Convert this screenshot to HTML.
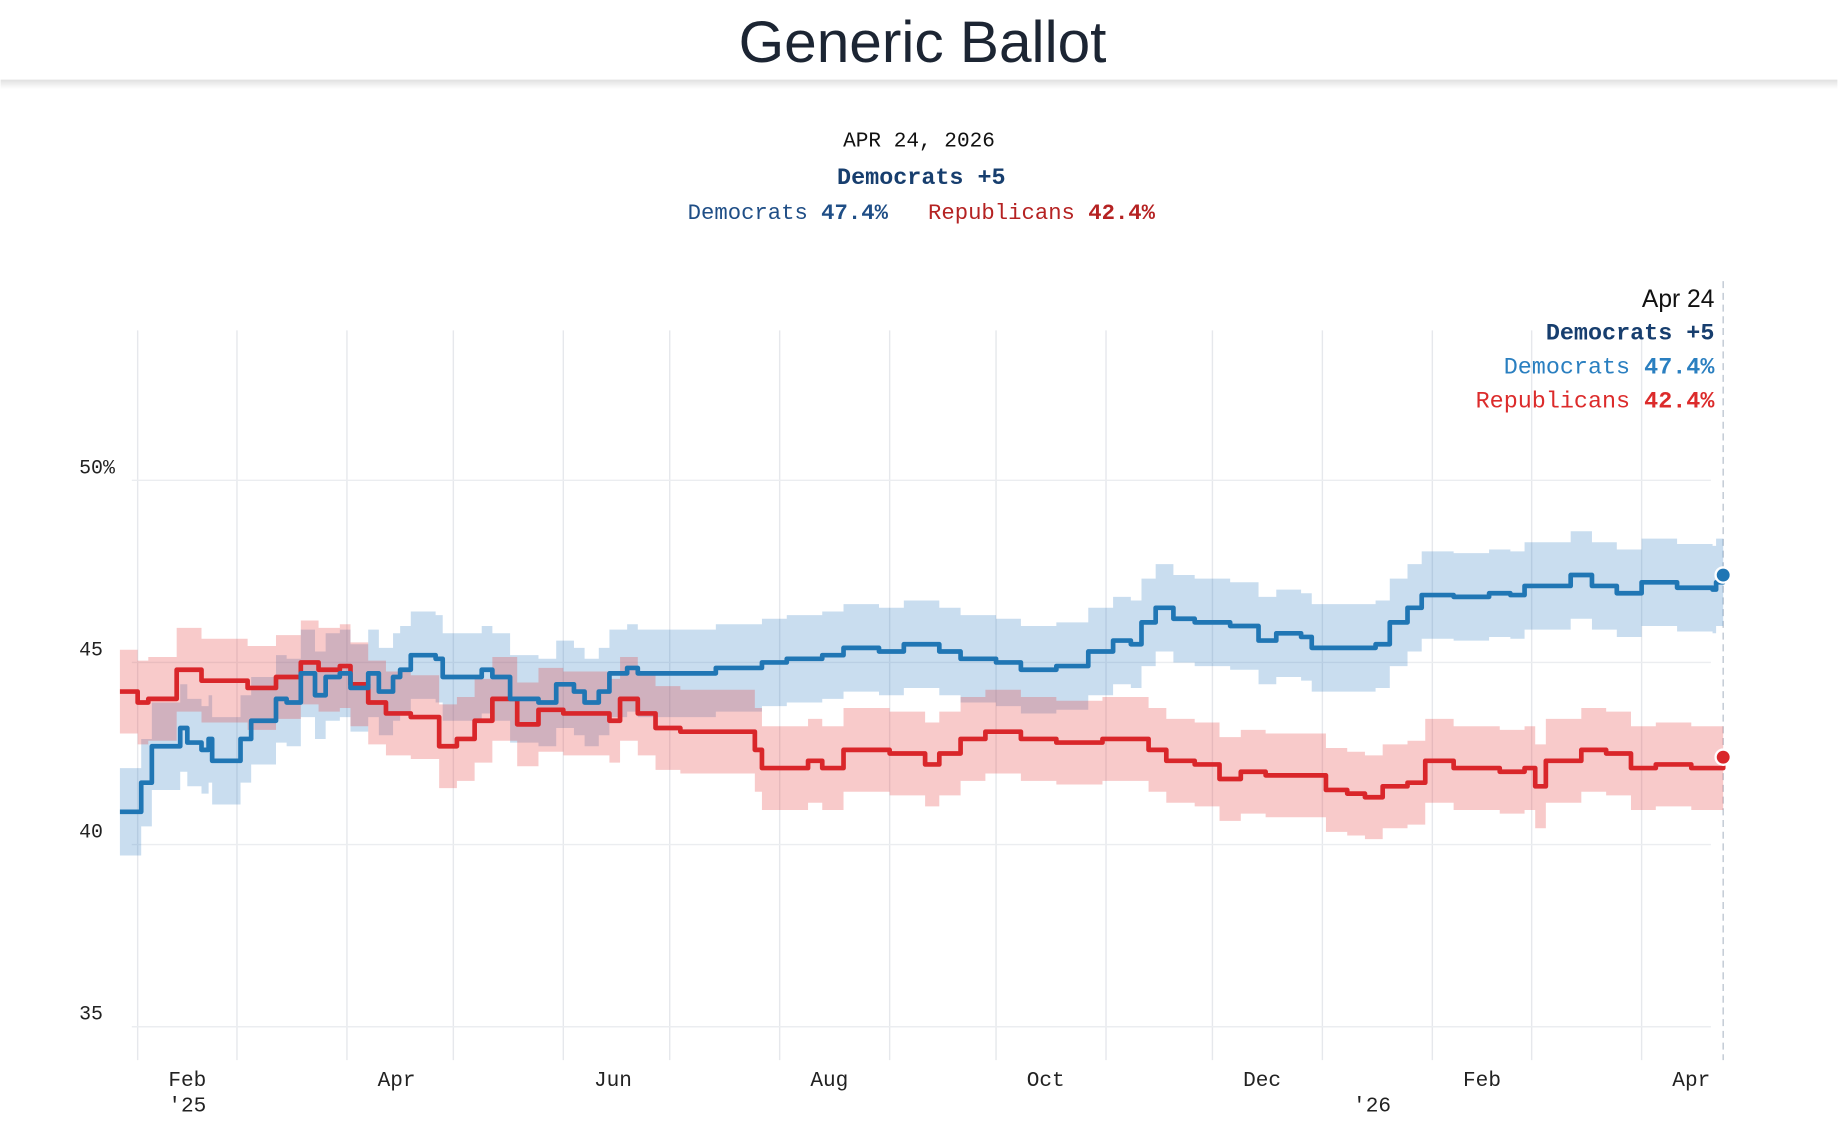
<!DOCTYPE html>
<html><head><meta charset="utf-8"><style>
html,body{margin:0;padding:0;background:#fff;width:1838px;height:1148px;overflow:hidden}
svg{display:block}
.mono{font-family:"Liberation Mono","DejaVu Sans Mono",monospace}
</style></head><body>
<svg id="chart" width="1838" height="1148" viewBox="0 0 1568 980" xmlns="http://www.w3.org/2000/svg">
<defs><linearGradient id="sh" x1="0" y1="0" x2="0" y2="1"><stop offset="0" stop-color="#000" stop-opacity="0.12"/><stop offset="1" stop-color="#000" stop-opacity="0"/></linearGradient></defs>
<rect x="0" y="68" width="1568" height="8" fill="url(#sh)"/>
<text x="787" y="53" text-anchor="middle" font-family="Liberation Sans, sans-serif" font-size="50" fill="#1c2533">Generic Ballot</text>
<text class="mono" x="784" y="125" text-anchor="middle" font-size="18" fill="#111">APR 24, 2026</text>
<text class="mono" x="786" y="157" text-anchor="middle" font-size="20" font-weight="bold" fill="#173e6e">Democrats +5</text>
<text class="mono" x="786" y="187" text-anchor="middle" font-size="19" xml:space="preserve"><tspan fill="#1f4e86">Democrats</tspan><tspan fill="#1f4e86" font-weight="bold"> 47.4%</tspan><tspan>   </tspan><tspan fill="#b52222">Republicans</tspan><tspan fill="#b52222" font-weight="bold"> 42.4%</tspan></text>
<g id="grid"></g>
<g id="bands"></g>
<g id="lines"></g>
<g id="axes"></g>
<text x="1463" y="262" text-anchor="end" font-size="21" fill="#111" font-family="Liberation Sans, sans-serif">Apr 24</text>
<text class="mono" x="1463" y="290" text-anchor="end" font-size="20" font-weight="bold" fill="#173e6e">Democrats +5</text>
<text class="mono" x="1463" y="319" text-anchor="end" font-size="20" fill="#2a7fc0">Democrats <tspan font-weight="bold">47.4%</tspan></text>
<text class="mono" x="1463" y="348" text-anchor="end" font-size="20" fill="#dc2b2b">Republicans <tspan font-weight="bold">42.4%</tspan></text>
</svg>
<script>
const demDays=[-5,-1,1,4,11,12,14,18,20,21,27,29,32,39,42,46,50,53,57,60,65,68,72,74,77,84,86,97,100,105,113,118,123,126,130,133,138,141,163,176,183,193,199,209,216,226,232,242,249,259,268,275,280,283,287,292,298,308,316,321,328,331,341,349,353,358,362,371,381,387,391,397,404,410,417,424,434,444,445,447];
const demVals=[40.9,40.9,41.7,42.7,42.7,43.2,42.8,42.6,42.9,42.3,42.3,42.9,43.4,44.0,43.9,44.7,44.1,44.6,44.7,44.3,44.7,44.2,44.6,44.8,45.2,45.1,44.6,44.8,44.6,44.0,43.9,44.4,44.2,43.9,44.2,44.7,44.85,44.7,44.85,45.0,45.1,45.2,45.4,45.3,45.5,45.3,45.1,45.0,44.8,44.9,45.3,45.6,45.5,46.1,46.5,46.2,46.1,46.0,45.6,45.8,45.7,45.4,45.4,45.5,46.1,46.5,46.85,46.8,46.9,46.85,47.1,47.1,47.4,47.1,46.9,47.2,47.05,47.0,47.2,47.4];
const repDays=[-5,0,3,11,18,31,39,46,51,57,60,65,70,77,85,90,95,100,107,113,120,133,136,141,146,153,174,176,189,193,199,212,222,226,232,239,249,259,272,278,285,290,298,305,311,318,331,335,341,346,351,358,363,371,384,391,394,397,407,414,421,428,438,445,447];
const repVals=[44.2,43.9,44.0,44.8,44.5,44.3,44.6,45.0,44.8,44.9,44.4,43.9,43.6,43.5,42.7,42.9,43.4,44.0,43.3,43.7,43.6,43.4,44.0,43.6,43.2,43.1,42.6,42.1,42.3,42.1,42.6,42.5,42.2,42.5,42.9,43.1,42.9,42.8,42.9,42.9,42.6,42.3,42.2,41.8,42.0,41.9,41.9,41.5,41.4,41.3,41.6,41.7,42.3,42.1,42.0,42.1,41.6,42.3,42.6,42.5,42.1,42.2,42.1,42.1,42.4];
const demSpread=1.2, repSpread=1.15;
const yTicks=[35,40,45,50];
const yTickLabels=["35","40","45","50%"];
const monthStarts=[0,28,59,89,120,150,181,212,242,273,303,334,365,393,424];
const monthLabels=["Feb","Apr","Jun","Aug","Oct","Dec","Feb","Apr"];
const monthLabelDays=[14,73,134,195,256,317,379,438];
const yearLabels=["'25","'26"];
const yearLabelDays=[14,348];
const endDay=447;

const NS="http://www.w3.org/2000/svg";
const X=d=>117+d*3.028;
const Y=v=>410+(50-v)*31.1;
function mk(tag,attrs,parent){const e=document.createElementNS(NS,tag);for(const k in attrs)e.setAttribute(k,attrs[k]);parent.appendChild(e);return e;}
const grid=document.getElementById('grid'),bands=document.getElementById('bands'),lines=document.getElementById('lines'),axes=document.getElementById('axes');
monthStarts.forEach(d=>{const l=mk('line',{x1:X(d),x2:X(d),y1:282,y2:905,stroke:'#e6e8ec','stroke-width':1.2},grid);

});
yTicks.forEach((v,i)=>{const l=mk('line',{x1:112,x2:1460,y1:Y(v),y2:Y(v),stroke:'#ebedf0','stroke-width':1.2},grid);


const t=mk('text',{x:67,y:Y(v)-6,'font-size':17,fill:'#222','class':'mono'},axes);t.textContent=yTickLabels[i];

});
const dl=mk('line',{x1:X(endDay),x2:X(endDay),y1:240,y2:905,stroke:'#c5ccd6','stroke-width':1.3,'stroke-dasharray':'6,4'},grid);


monthLabels.forEach((m,i)=>{const t=mk('text',{x:X(monthLabelDays[i]),y:927,'font-size':18,fill:'#222','text-anchor':'middle','class':'mono'},axes);t.textContent=m;

});
yearLabels.forEach((m,i)=>{const t=mk('text',{x:X(yearLabelDays[i]),y:949,'font-size':18,fill:'#222','text-anchor':'middle','class':'mono'},axes);t.textContent=m;

});
function stepPts(days,vals,off){const pts=[];days.forEach((d,i)=>{if(i>0)pts.push([X(d),Y(vals[i-1]+off)]);pts.push([X(d),Y(vals[i]+off)]);});return pts;}
function band(days,vals,sp,fill,name){const up=stepPts(days,vals,sp);const lo=stepPts(days,vals,-sp).reverse();
const p=mk('polygon',{points:up.concat(lo).map(p=>p.join(',')).join(' '),fill:fill},bands);

}
band(demDays,demVals,demSpread,'rgba(40,120,190,0.25)','democrats-band');
band(repDays,repVals,repSpread,'rgba(230,60,60,0.27)','republicans-band');
function line(days,vals,col,name){const p=mk('polyline',{points:stepPts(days,vals,0).map(p=>p.join(',')).join(' '),fill:'none',stroke:col,'stroke-width':4,'stroke-linejoin':'round'},lines);


const c=mk('circle',{cx:X(days[days.length-1]),cy:Y(vals[vals.length-1]),r:6.5,fill:col,stroke:'#fff','stroke-width':2},lines);

}
line(repDays,repVals,'#d9262a','republicans-line');
line(demDays,demVals,'#2076b4','democrats-line');
</script>
</body></html>
